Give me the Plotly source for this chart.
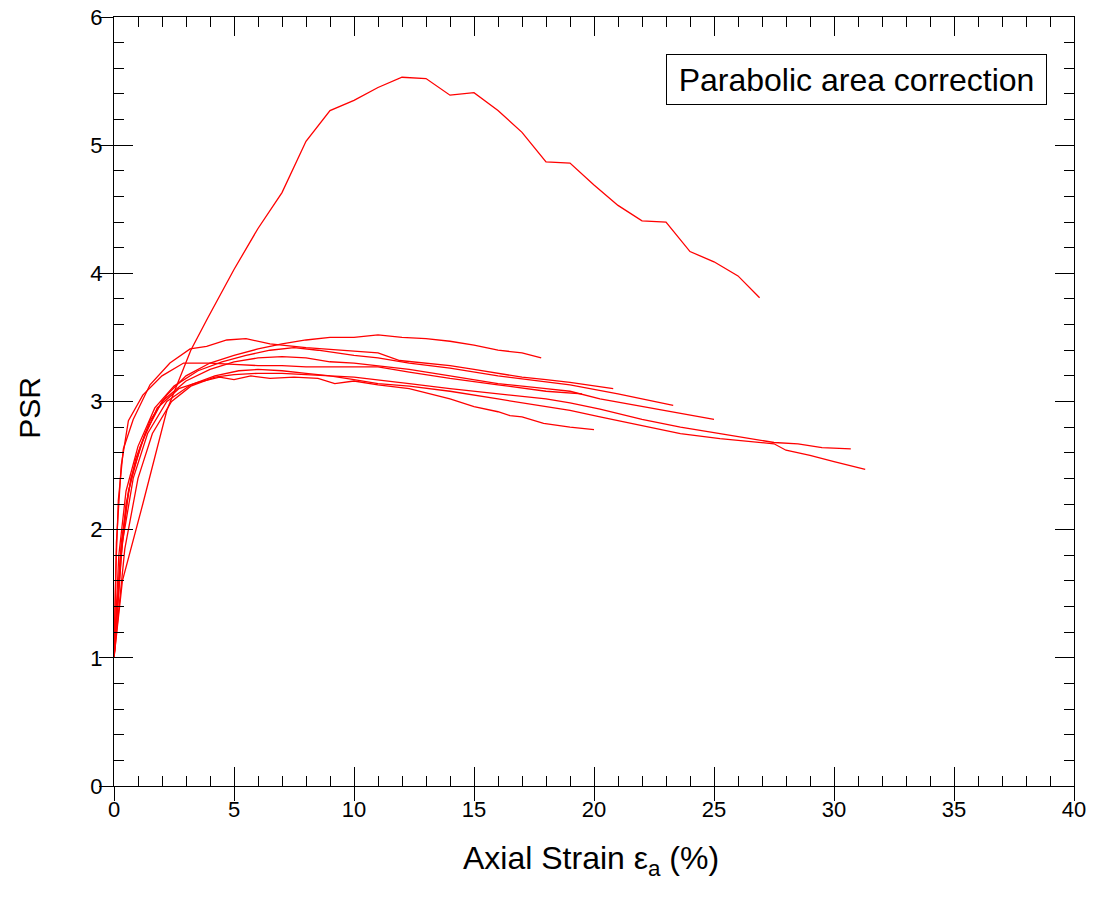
import plotly.graph_objects as go

# ---- data ----
peak_x = [0, 0.35, 1.2, 2.2, 3.2, 3.9, 5, 6, 7, 8, 9, 10, 11, 12, 13, 14, 15, 16, 17, 18, 19, 20, 21, 22, 23, 24, 25, 26, 26.9]
peak_y = [1.0, 1.6, 2.2, 2.93, 3.4, 3.65, 4.03, 4.35, 4.63, 5.03, 5.27, 5.35, 5.45, 5.53, 5.52, 5.39, 5.41, 5.27, 5.10, 4.87, 4.86, 4.69, 4.53, 4.41, 4.40, 4.17, 4.09, 3.98, 3.81]

c1_x = [0, 0.25, 0.5, 0.9, 1.5, 2.2, 3, 4, 5, 6, 7, 8, 9, 10, 11, 12, 13, 14, 15, 16, 17, 17.8]
c1_y = [1.0, 1.75, 2.2, 2.55, 2.85, 3.05, 3.2, 3.3, 3.36, 3.41, 3.45, 3.48, 3.5, 3.5, 3.52, 3.5, 3.49, 3.47, 3.44, 3.4, 3.38, 3.34]

c2_x = [0, 0.08, 0.18, 0.39, 0.8, 1.5, 2.33, 3.17, 3.86, 4.7, 5.5, 6.5, 8, 10, 11, 11.9, 13, 14, 15, 16, 17, 18, 19, 20.8]
c2_y = [1.0, 1.7, 2.23, 2.63, 2.86, 3.13, 3.3, 3.41, 3.43, 3.48, 3.49, 3.45, 3.42, 3.39, 3.38, 3.32, 3.30, 3.28, 3.25, 3.22, 3.19, 3.17, 3.15, 3.10]

c3_x = [0, 0.2, 0.5, 1, 1.7, 2.5, 3.5, 4.5, 5.5, 6.5, 7.5, 8.5, 10, 11, 12.3, 14, 16, 18, 19, 21, 22, 23.3]
c3_y = [1.0, 1.8, 2.3, 2.65, 2.95, 3.12, 3.24, 3.31, 3.36, 3.4, 3.42, 3.4, 3.36, 3.34, 3.3, 3.26, 3.2, 3.15, 3.13, 3.06, 3.02, 2.97]

c4_x = [0, 0.3, 0.7, 1.3, 2, 3, 4, 5, 6, 7, 8, 9, 10, 11, 12.3, 14, 16, 18, 19, 20.25, 22, 23.6, 25]
c4_y = [1.0, 1.9, 2.4, 2.75, 3.0, 3.16, 3.25, 3.31, 3.34, 3.35, 3.34, 3.31, 3.3, 3.28, 3.25, 3.2, 3.14, 3.1, 3.08, 3.02, 2.96, 2.91, 2.86]

c5_x = [0, 0.3, 0.6, 1.1, 1.8, 2.7, 3.5, 4.4, 5, 5.7, 6.5, 7.5, 8.5, 9.2, 10, 11, 12.3, 14, 15, 16, 16.5, 17, 17.9, 19, 20]
c5_y = [1.0, 1.8, 2.3, 2.65, 2.95, 3.1, 3.15, 3.19, 3.17, 3.2, 3.18, 3.19, 3.18, 3.14, 3.16, 3.13, 3.10, 3.02, 2.96, 2.92, 2.89, 2.88, 2.83, 2.80, 2.78]

c6_x = [0, 0.35, 0.8, 1.4, 2.2, 3.2, 4.2, 5.2, 6, 7, 8, 9, 10, 11, 12.3, 14, 16, 18, 19, 20.25, 22, 23.6, 25.25, 27, 27.5, 28.5, 29.5, 30.7]
c6_y = [1.0, 1.9, 2.4, 2.75, 3.0, 3.13, 3.2, 3.24, 3.25, 3.24, 3.22, 3.2, 3.19, 3.17, 3.14, 3.1, 3.06, 3.02, 2.99, 2.94, 2.86, 2.80, 2.75, 2.7, 2.68, 2.67, 2.64, 2.63]

c7_x = [0, 0.45, 1, 1.6, 2.4, 3.2, 4.2, 5, 6, 7, 8, 9, 10, 11, 12.3, 14, 16, 18, 19, 20.25, 22, 23.6, 25.25, 26.5, 27.5, 28, 29, 30, 31.3]
c7_y = [1.0, 1.85, 2.4, 2.75, 3.0, 3.12, 3.19, 3.21, 3.22, 3.22, 3.21, 3.2, 3.17, 3.14, 3.12, 3.08, 3.02, 2.96, 2.93, 2.88, 2.81, 2.75, 2.71, 2.69, 2.67, 2.62, 2.58, 2.53, 2.47]

c8_x = [0, 0.1, 0.3, 0.6, 1.2, 2.0, 2.9, 4, 5, 6, 7, 8, 9, 11, 12.3, 14, 16, 18, 19.5]
c8_y = [1.0, 1.9, 2.5, 2.85, 3.05, 3.2, 3.3, 3.3, 3.29, 3.28, 3.28, 3.27, 3.27, 3.27, 3.23, 3.18, 3.13, 3.08, 3.06]

series = [
    (peak_x, peak_y), (c1_x, c1_y), (c2_x, c2_y), (c3_x, c3_y), (c4_x, c4_y),
    (c5_x, c5_y), (c6_x, c6_y), (c7_x, c7_y), (c8_x, c8_y),
]

x_title = "Axial Strain ε<sub>a</sub> (%)"
y_title = "PSR"
label_text = "Parabolic area correction"

FONT = "Arial, 'Liberation Sans', sans-serif"

fig = go.Figure()
for sx, sy in series:
    fig.add_trace(go.Scatter(x=sx, y=sy, mode="lines",
                             line=dict(color="#ff0000", width=1.3),
                             showlegend=False, hoverinfo="skip"))
# dummy trace to activate the overlay axes (used only for inside ticks)
fig.add_trace(go.Scatter(x=[None], y=[None], xaxis="x2", yaxis="y2",
                         showlegend=False, hoverinfo="skip"))

common = dict(showgrid=False, zeroline=False, showline=True, automargin=False,
              linecolor="black", linewidth=1, tickcolor="black", tickwidth=1)

fig.update_layout(
    width=1095, height=917,
    margin=dict(l=114, r=21, t=17, b=131),
    paper_bgcolor="white", plot_bgcolor="white",
    font=dict(family=FONT, color="black", size=22),
    xaxis=dict(range=[0, 40], dtick=5, tick0=0, ticks="outside", ticklen=14,
               mirror=True, tickfont=dict(size=22), ticklabelstandoff=-10,
               **common),
    yaxis=dict(range=[0, 6], dtick=1, tick0=0, ticks="outside", ticklen=14,
               mirror=True, tickfont=dict(size=22), ticklabelstandoff=-8,
               **common),
    xaxis2=dict(range=[0, 40], dtick=5, tick0=0, overlaying="x", side="bottom",
                ticks="inside", ticklen=19, mirror="ticks", showticklabels=False,
                minor=dict(ticks="inside", ticklen=10, dtick=1, tick0=0, tickcolor="black"),
                anchor="y2", **common),
    yaxis2=dict(range=[0, 6], dtick=1, tick0=0, overlaying="y", side="left",
                ticks="inside", ticklen=19, mirror="ticks", showticklabels=False,
                minor=dict(ticks="inside", ticklen=10, dtick=0.2, tick0=0, tickcolor="black"),
                anchor="x2", **common),
    annotations=[
        dict(text=label_text, xref="paper", yref="paper",
             x=0.972, y=0.952, xanchor="right", yanchor="top",
             width=369, height=39, align="center", valign="middle",
             showarrow=False, font=dict(size=32, family=FONT),
             bordercolor="black", borderwidth=1, borderpad=5,
             bgcolor="white"),
        dict(text=x_title, xref="paper", yref="paper",
             x=0.497, y=-0.0975, xanchor="center", yanchor="middle",
             showarrow=False, font=dict(size=32, family=FONT)),
        dict(text=y_title, xref="paper", yref="paper",
             x=-0.0875, y=0.492, xanchor="center", yanchor="middle",
             textangle=-90, showarrow=False, font=dict(size=30, family=FONT)),
    ],
)

fig.write_html("out.html")
